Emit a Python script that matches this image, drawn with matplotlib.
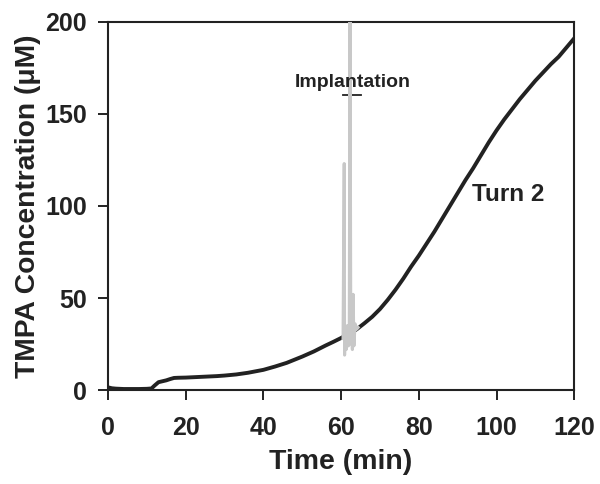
import matplotlib.pyplot as plt

plt.rcParams['font.family'] = ['Liberation Sans', 'DejaVu Sans']
plt.rcParams['font.weight'] = 'bold'
plt.rcParams['axes.labelweight'] = 'bold'

# main trace (black)
t_main = [0, 1, 2, 4, 6, 8, 10, 11.2, 12, 13, 14, 15, 16, 17, 18, 20, 22, 25, 28, 30,
          33, 36, 40, 43, 46, 50, 53, 56, 58, 60, 62, 64, 66, 68, 70, 72, 74, 76, 78,
          80, 82, 84, 86, 88, 90, 92, 94, 96, 98, 100, 102, 104, 106, 108, 110, 112,
          114, 116, 118, 120]
c_main = [1.5, 1.0, 0.8, 0.6, 0.6, 0.6, 0.7, 0.9, 2.5, 4.3, 4.8, 5.3, 6.0, 6.6, 6.7, 6.8, 7.0, 7.3, 7.6, 7.9,
          8.5, 9.4, 11.0, 12.8, 14.8, 18.2, 21.0, 24.2, 26.2, 28.3, 30.6, 33.0, 36.3, 39.8, 44.0, 49.0,
          54.5, 60.5, 67.0, 73.0, 79.5, 86.0, 93.0, 100.0, 107.0, 114.0, 120.5, 127.5, 134.5, 141.0,
          147.0, 152.5, 158.0, 163.0, 168.0, 172.5, 177.0, 181.0, 186.0, 191.0]

# implantation artefact (grey)
t_impl = [60.5, 60.8, 60.9, 61.0, 61.3, 61.6, 61.9, 62.1, 62.3, 62.5, 62.7, 62.9, 63.1,
          63.3, 63.6, 64.0, 64.4]
c_impl = [28, 123, 19, 30, 22, 35, 24, 30, 205, 25, 34, 22, 52, 24, 36, 33, 34]

fig = plt.figure(figsize=(6, 4.84), dpi=100)
ax = fig.add_axes([0.18, 0.194, 0.777, 0.761])

ax.plot(t_main, c_main, color='#222222', lw=2.8, zorder=2)
ax.plot(t_impl, c_impl, color='#c8c8c8', lw=2.2, zorder=3)

ax.plot([60.5, 65], [160, 160], color='#222222', lw=1.3)
ax.text(63, 167, 'Implantation', ha='center', va='center', fontsize=14, color='#222222')
ax.text(103, 106, 'Turn 2', ha='center', va='center', fontsize=17.5, color='#222222')

ax.set_xlim(0, 120)
ax.set_ylim(0, 200)
ax.set_xticks([0, 20, 40, 60, 80, 100, 120])
ax.set_yticks([0, 50, 100, 150, 200])
ax.tick_params(direction='out', length=7, width=1.4, labelsize=18, colors='#222222', pad=8)
ax.tick_params(axis='x', pad=12)
for s in ax.spines.values():
    s.set_linewidth(1.5)
    s.set_color('#222222')

ax.set_xlabel('Time (min)', fontsize=20.5, color='#222222', labelpad=6)
ax.set_ylabel('TMPA Concentration (μM)', fontsize=20.3, color='#222222', labelpad=3)

plt.savefig('out.png', dpi=100)
